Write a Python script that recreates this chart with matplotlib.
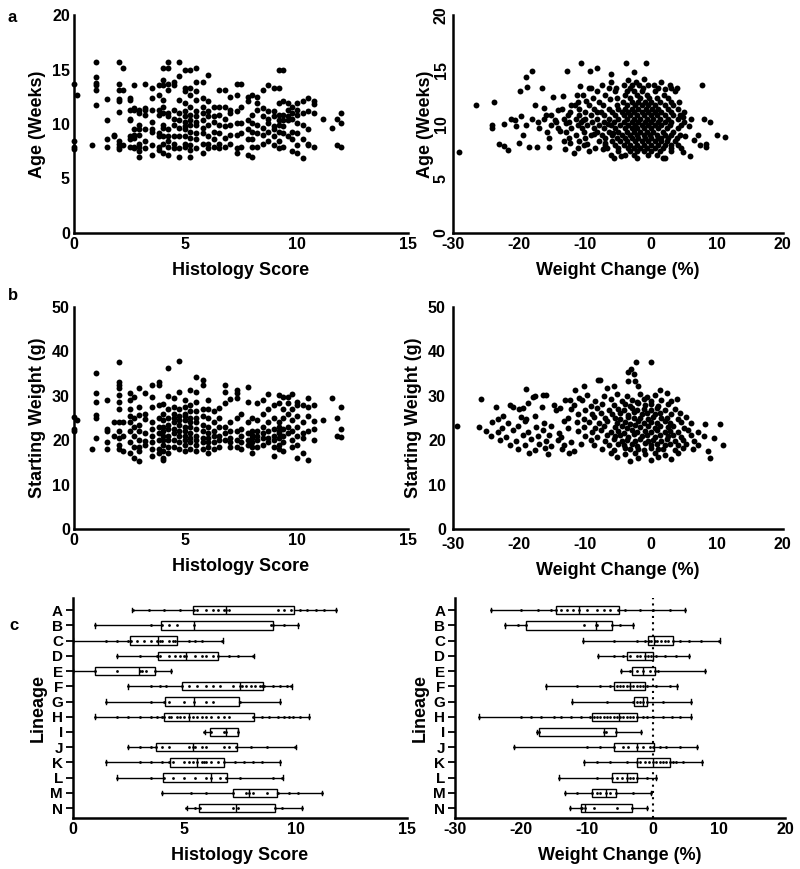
import matplotlib
matplotlib.use('Agg')
import matplotlib.pyplot as plt

plt.rcParams['font.family'] = ['Liberation Sans', 'DejaVu Sans']
plt.rcParams['font.weight'] = 'bold'
plt.rcParams['axes.labelweight'] = 'bold'
plt.rcParams['axes.unicode_minus'] = False

# ---- panel a/b left: histology score columns, with age (weeks) and starting weight (g)
hist_levels = [0.0, 0.15, 0.8, 1.0, 1.5, 1.8, 2.0, 2.2, 2.5, 2.7, 2.9, 3.2, 3.5, 3.8, 4.0, 4.2,
               4.5, 4.7, 5.0, 5.2, 5.5, 5.8, 6.0, 6.3, 6.5, 6.8, 7.0, 7.3, 7.5, 7.8, 8.0, 8.2,
               8.5, 8.7, 9.0, 9.2, 9.4, 9.6, 9.8, 10.0, 10.3, 10.5, 10.8, 11.2, 11.6, 11.8, 12.0]

age_by_hist = [
    [13.7, 8.4, 7.9, 7.7], [12.7], [8.1],
    [15.7, 14.3, 13.8, 13.6, 13.1, 11.7],
    [12.3, 10.4, 8.6, 7.9], [9.0, 8.9],
    [15.7, 13.7, 13.1, 12.3, 12.1, 11.1, 8.4, 8.2, 7.9, 7.7],
    [15.1, 13.1, 8.1],
    [12.4, 12.2, 10.5, 10.4, 8.9, 8.6, 7.9, 11.3],
    [13.6, 11.5, 11.3, 9.0, 8.7, 7.9, 7.8, 9.5],
    [11.3, 11.0, 9.9, 9.0, 8.2, 7.5, 7.0, 7.9, 9.5],
    [13.7, 11.5, 10.8, 9.5, 8.4, 7.8, 11.3],
    [13.3, 12.4, 11.3, 10.2, 9.3, 8.1, 7.2, 9.5],
    [13.6, 12.7, 11.3, 10.8, 9.2, 8.9, 7.9, 7.6],
    [15.1, 14.0, 13.6, 12.2, 11.6, 11.0, 9.9, 9.6, 8.9, 8.2, 7.3],
    [15.7, 15.1, 13.7, 13.1, 11.0, 10.7, 9.5, 8.4, 7.9, 7.2, 8.9],
    [13.9, 13.6, 11.3, 10.5, 9.9, 8.9, 8.2, 7.8],
    [15.7, 14.4, 12.2, 11.0, 10.4, 9.6, 8.9, 7.8, 7.0],
    [15.0, 13.3, 13.0, 11.9, 11.2, 10.7, 10.2, 9.8, 9.5, 8.9, 8.2, 7.9],
    [15.0, 13.3, 12.7, 11.6, 10.8, 10.4, 9.9, 9.3, 8.7, 8.1, 7.6, 7.0],
    [15.1, 13.9, 13.0, 12.2, 11.2, 10.7, 10.2, 9.9, 9.2, 8.6, 7.8],
    [13.9, 12.4, 11.6, 11.0, 10.4, 9.6, 9.2, 8.2, 7.3],
    [14.5, 12.1, 11.2, 10.7, 9.9, 8.9, 8.2, 7.8],
    [11.6, 10.7, 10.2, 9.3, 8.6, 7.9],
    [13.1, 11.6, 10.8, 9.9, 9.2, 8.2, 7.8],
    [13.1, 11.6, 10.5, 9.8, 8.7, 7.9],
    [12.5, 11.3, 11.0, 9.9, 9.0, 8.2],
    [13.7, 12.7, 11.2, 10.1, 9.0, 7.8, 7.3],
    [13.7, 11.6, 10.1, 9.2, 7.9],
    [12.5, 12.1, 10.4, 9.5, 8.6, 7.2],
    [12.7, 10.8, 10.1, 9.3, 8.6, 7.9, 7.0],
    [12.5, 11.9, 11.3, 9.9, 9.2, 7.9],
    [13.1, 11.5, 10.7, 9.6, 9.0, 8.2],
    [13.6, 11.2, 10.5, 10.1, 9.3, 8.4],
    [13.3, 11.2, 10.7, 9.8, 9.5, 8.9, 8.1],
    [15.0, 13.3, 11.9, 10.8, 10.4, 9.9, 9.3, 8.4, 7.8],
    [15.0, 12.1, 10.8, 10.4, 9.8, 9.2, 7.9],
    [11.9, 11.3, 10.7, 10.4, 8.9],
    [11.6, 11.0, 10.5, 9.3, 8.6, 7.5],
    [11.9, 11.3, 10.8, 10.1, 9.2, 8.1, 7.3],
    [12.1, 11.0, 9.9, 8.6, 6.9],
    [12.4, 11.2, 9.5, 8.2, 8.1],
    [12.1, 11.8, 11.0, 7.9],
    [10.5], [9.6], [10.5, 8.1], [11.0, 10.1, 7.9],
]

weight_by_hist = [
    [25.2, 22.4, 22.0], [24.6], [18.0],
    [35.1, 30.6, 28.7, 25.7, 25.0, 20.5],
    [29.1, 22.0, 18.0, 22.5, 19.5], [24.0, 21.0],
    [37.7, 32.4, 31.7, 33.2, 30.2, 28.5, 27.0, 24.0, 22.0, 20.5, 19.0, 18.0],
    [24.0, 21.0, 17.5],
    [30.6, 29.0, 27.0, 25.5, 24.0, 22.0, 19.5, 17.0],
    [29.8, 25.0, 23.0, 21.0, 18.5, 16.0],
    [31.7, 27.5, 25.6, 23.5, 22.0, 20.0, 18.5, 17.5, 15.3],
    [30.6, 26.0, 21.5, 19.0, 24.8, 19.8],
    [32.4, 29.8, 27.5, 24.0, 22.5, 21.0, 19.5, 18.0, 16.5],
    [32.4, 33.2, 28.0, 25.0, 23.0, 21.5, 20.0, 18.0, 17.0],
    [28.2, 26.0, 24.5, 23.0, 22.0, 21.0, 20.0, 19.0, 17.5, 16.0, 15.5],
    [36.2, 30.0, 27.0, 25.0, 23.5, 22.5, 21.0, 20.0, 18.5, 17.0],
    [29.5, 27.5, 26.0, 25.0, 24.0, 22.5, 21.5, 20.0, 18.5],
    [37.8, 30.9, 27.0, 25.5, 24.5, 23.5, 22.0, 21.0, 19.5, 18.0],
    [29.0, 27.5, 26.0, 25.5, 24.5, 23.0, 22.0, 21.0, 20.0, 19.0, 17.5],
    [31.3, 28.0, 26.5, 25.0, 24.0, 23.0, 21.5, 20.5, 19.5, 18.0],
    [34.3, 30.9, 28.5, 26.5, 25.0, 24.0, 22.5, 21.0, 20.0, 19.0, 17.5],
    [33.5, 32.4, 27.0, 25.5, 23.5, 22.0, 20.5, 19.5, 18.0],
    [29.1, 27.0, 25.0, 23.0, 21.5, 20.5, 19.5, 18.5, 17.0],
    [26.5, 24.0, 22.0, 21.0, 19.5, 18.0],
    [27.3, 25.0, 23.0, 21.0, 20.0, 18.5],
    [32.4, 30.9, 28.4, 23.0, 21.5, 20.0],
    [29.3, 24.0, 22.0, 20.5, 19.5, 18.5],
    [31.3, 30.6, 29.5, 25.0, 22.0, 20.0, 18.5],
    [26.0, 22.5, 21.0, 19.5, 18.0],
    [32.0, 28.6, 24.0, 21.5, 20.0, 19.0],
    [25.0, 22.0, 20.5, 19.5, 18.5, 17.0, 21.2],
    [28.3, 24.5, 22.0, 21.0, 20.0, 18.5],
    [29.1, 26.0, 23.0, 21.5, 20.5, 19.0],
    [30.4, 27.0, 24.0, 22.0, 20.5, 19.5],
    [28.0, 25.0, 22.5, 21.0, 20.0, 18.5, 16.5],
    [30.2, 28.4, 24.0, 22.0, 20.5, 19.0, 18.0, 21.5, 23.0],
    [29.8, 27.0, 25.0, 22.5, 21.0, 19.5, 17.5],
    [29.8, 28.4, 26.0, 23.0, 21.5],
    [30.4, 27.0, 24.5, 22.0, 20.0, 18.5],
    [27.9, 25.5, 23.0, 21.0, 19.0, 16.0, 28.6],
    [27.9, 24.0, 21.5, 17.0, 20.5],
    [29.5, 27.5, 25.5, 22.0, 15.6],
    [27.9, 24.4, 20.0, 22.6],
    [24.5], [29.5], [25.0, 21.0], [27.5, 22.5, 20.8],
]

# ---- panel a right: weight change (%) vs age (weeks)
wc_age_pairs = [
    (-29.0, 7.4), (-26.5, 11.7), (-23.8, 12.0), (-24.0, 9.9), (-24.0, 9.6), (-23.0, 8.2),
    (-22.3, 8.0), (-21.7, 7.6), (-22.2, 10.0), (-21.2, 10.5), (-20.6, 10.4), (-20.4, 9.8),
    (-20.0, 8.3), (-19.8, 13.0), (-19.6, 10.7), (-19.4, 9.0), (-18.9, 14.3), (-18.7, 13.4),
    (-18.9, 9.9), (-18.5, 7.9), (-18.0, 14.9), (-18.0, 10.5), (-17.6, 11.7), (-17.1, 10.2),
    (-16.9, 9.6), (-17.2, 7.9), (-16.5, 13.3), (-16.2, 11.5), (-15.9, 10.8), (-15.7, 9.3),
    (-15.5, 8.7), (-15.5, 7.9), (-14.5, 10.4), (-14.8, 12.5), (-14.0, 11.3), (-13.7, 9.4),
    (-13.3, 12.6), (-13.0, 7.7), (-12.8, 10.1), (-12.7, 14.9), (-12.3, 8.3), (-11.6, 7.3),
    (-11.5, 11.7), (-11.2, 12.7), (-10.8, 13.5), (-10.6, 15.6), (-10.2, 10.4), (-9.7, 8.2),
    (-9.8, 12.1), (-8.6, 9.1), (-9.1, 13.3), (-9.2, 14.9), (-7.6, 11.1), (-7.3, 7.7),
    (-8.2, 15.1), (-7.0, 8.3), (-6.5, 10.0), (-6.2, 12.3), (-5.6, 6.9), (-6.0, 14.6),
    (-5.7, 9.2), (-5.2, 13.3), (-4.5, 7.1), (-3.7, 15.6), (-2.5, 14.8), (-0.7, 15.6),
    (0.5, 13.6), (2.1, 13.2), (2.2, 6.9), (3.1, 13.3), (3.9, 13.3), (4.2, 12.0), (4.9, 10.6),
    (4.9, 7.4), (5.2, 8.9), (5.8, 9.8), (6.0, 7.1), (6.6, 8.5), (7.1, 9.0), (7.5, 8.1),
    (7.8, 13.6), (8.1, 10.5), (8.4, 7.9), (8.4, 8.2), (8.9, 10.2), (10.1, 9.0), (11.2, 8.8),
    (-6.1, 13.9), (-3.4, 14.0), (-2.3, 13.9), (-1.1, 14.1), (1.6, 13.9),
    (-7.4, 13.6), (-4.1, 13.6), (-2.9, 13.6), (-1.8, 13.6), (-0.4, 13.6), (2.9, 13.6),
    (-9.4, 13.3), (-6.4, 13.3), (-3.1, 13.3), (-1.2, 13.3), (1.1, 13.3),
    (-8.1, 13.0), (-5.4, 13.0), (-3.6, 13.0), (-2.6, 13.0), (-1.4, 13.0), (0.6, 13.0), (3.6, 13.0),
    (-10.3, 12.7), (-6.9, 12.7), (-3.9, 12.7), (-2.1, 12.7), (-0.6, 12.7), (2.0, 12.7),
    (-8.8, 12.4), (-5.1, 12.4), (-3.2, 12.4), (-1.6, 12.4), (-0.3, 12.4), (0.9, 12.4), (2.6, 12.4),
    (-11.1, 12.0), (-7.9, 12.0), (-4.2, 12.0), (-2.8, 12.0), (-1.9, 12.0), (-0.9, 12.0),
    (0.1, 12.0), (1.4, 12.0), (3.1, 12.0),
    (-12.1, 11.7), (-9.4, 11.7), (-7.3, 11.7), (-5.1, 11.7), (-3.6, 11.7), (-2.4, 11.7),
    (-1.3, 11.7), (-0.4, 11.7), (0.6, 11.7), (2.1, 11.7), (3.4, 11.7),
    (-13.4, 11.4), (-10.9, 11.4), (-8.6, 11.4), (-6.4, 11.4), (-4.9, 11.4), (-3.9, 11.4),
    (-2.9, 11.4), (-1.9, 11.4), (-0.8, 11.4), (0.2, 11.4), (1.1, 11.4), (2.6, 11.4), (4.1, 11.4),
    (-12.2, 11.1), (-9.9, 11.1), (-8.1, 11.1), (-5.9, 11.1), (-4.4, 11.1), (-3.4, 11.1),
    (-2.6, 11.1), (-1.4, 11.1), (-0.4, 11.1), (0.6, 11.1), (1.6, 11.1), (3.1, 11.1), (5.1, 11.1),
    (-15.1, 10.8), (-12.6, 10.8), (-10.9, 10.8), (-9.1, 10.8), (-7.1, 10.8), (-5.4, 10.8),
    (-4.1, 10.8), (-3.1, 10.8), (-2.1, 10.8), (-1.1, 10.8), (0.0, 10.8), (0.9, 10.8),
    (2.1, 10.8), (3.4, 10.8), (4.4, 10.8),
    (-16.2, 10.5), (-13.1, 10.5), (-11.4, 10.5), (-9.9, 10.5), (-8.1, 10.5), (-6.4, 10.5),
    (-4.9, 10.5), (-3.6, 10.5), (-2.6, 10.5), (-1.6, 10.5), (-0.6, 10.5), (0.4, 10.5),
    (1.4, 10.5), (2.6, 10.5), (4.1, 10.5), (6.1, 10.5),
    (-14.4, 10.2), (-12.4, 10.2), (-10.6, 10.2), (-8.9, 10.2), (-7.1, 10.2), (-5.6, 10.2),
    (-4.1, 10.2), (-2.9, 10.2), (-1.9, 10.2), (-0.9, 10.2), (0.1, 10.2), (1.1, 10.2),
    (2.1, 10.2), (3.1, 10.2), (5.1, 10.2),
    (-15.1, 9.9), (-11.1, 9.9), (-9.6, 9.9), (-7.9, 9.9), (-6.1, 9.9), (-4.6, 9.9),
    (-3.4, 9.9), (-2.4, 9.9), (-1.4, 9.9), (-0.4, 9.9), (0.6, 9.9), (1.6, 9.9), (2.9, 9.9), (4.6, 9.9),
    (-14.1, 9.6), (-12.1, 9.6), (-10.4, 9.6), (-8.6, 9.6), (-7.1, 9.6), (-5.4, 9.6),
    (-3.9, 9.6), (-2.9, 9.6), (-2.1, 9.6), (-1.1, 9.6), (0.1, 9.6), (1.1, 9.6), (2.4, 9.6), (4.1, 9.6),
    (-12.9, 9.3), (-10.1, 9.3), (-8.1, 9.3), (-6.4, 9.3), (-4.9, 9.3), (-3.6, 9.3),
    (-2.6, 9.3), (-1.6, 9.3), (-0.6, 9.3), (0.4, 9.3), (1.9, 9.3), (3.4, 9.3),
    (-11.4, 9.0), (-9.1, 9.0), (-7.4, 9.0), (-5.9, 9.0), (-4.4, 9.0), (-3.1, 9.0),
    (-2.1, 9.0), (-1.1, 9.0), (-0.1, 9.0), (0.9, 9.0), (2.1, 9.0), (3.1, 9.0), (4.4, 9.0),
    (-12.4, 8.7), (-9.9, 8.7), (-6.9, 8.7), (-5.1, 8.7), (-3.9, 8.7), (-2.9, 8.7),
    (-1.9, 8.7), (-0.9, 8.7), (0.1, 8.7), (1.1, 8.7), (1.6, 8.7), (2.6, 8.7), (3.9, 8.7),
    (-13.1, 8.4), (-10.9, 8.4), (-7.9, 8.4), (-5.9, 8.4), (-4.6, 8.4), (-3.6, 8.4),
    (-2.4, 8.4), (-1.4, 8.4), (-0.4, 8.4), (0.6, 8.4), (1.6, 8.4), (2.4, 8.4), (3.6, 8.4),
    (-10.1, 8.1), (-6.9, 8.1), (-5.4, 8.1), (-4.1, 8.1), (-3.1, 8.1), (-2.1, 8.1),
    (-1.1, 8.1), (0.1, 8.1), (1.1, 8.1), (2.1, 8.1), (3.1, 8.1), (4.1, 8.1),
    (-11.1, 7.8), (-8.4, 7.8), (-6.6, 7.8), (-4.9, 7.8), (-3.4, 7.8), (-2.6, 7.8),
    (-1.6, 7.8), (-0.6, 7.8), (0.6, 7.8), (1.9, 7.8), (3.1, 7.8), (4.6, 7.8),
    (-9.4, 7.5), (-4.9, 7.5), (-3.1, 7.5), (-2.1, 7.5), (-1.1, 7.5), (0.1, 7.5), (1.4, 7.5), (3.1, 7.5),
    (-6.1, 7.2), (-3.9, 7.2), (-2.6, 7.2), (-0.4, 7.2), (0.9, 7.2),
    (-2.1, 6.9), (1.9, 6.9),
]

# ---- panel b right: weight change (%) vs starting weight (g)
wc_weight_pairs = [
    (-29.3, 23.2), (-25.8, 29.2), (-23.5, 27.5), (-23.2, 24.8), (-22.4, 25.5), (-21.4, 28.0),
    (-20.9, 27.5), (-20.0, 27.0), (-19.4, 27.3), (-18.9, 31.5), (-18.6, 28.4), (-17.9, 29.8),
    (-17.6, 30.0), (-16.4, 30.2), (-15.9, 30.2), (-19.7, 25.2), (-18.9, 24.8), (-17.5, 25.5),
    (-16.5, 27.5), (-14.6, 27.9), (-14.3, 26.8), (-13.8, 27.3), (-13.0, 29.1), (-12.3, 29.1),
    (-11.5, 31.3), (-10.9, 29.5), (-10.1, 32.2), (-8.0, 33.6), (-7.7, 33.6), (-6.6, 31.8),
    (-5.6, 32.2), (-3.0, 36.0), (-2.3, 37.7), (0.0, 37.5), (-3.5, 35.4), (-2.6, 34.9),
    (-3.4, 33.4), (-2.4, 33.4), (-1.9, 32.2), (1.4, 31.2), (2.4, 30.7), (3.9, 29.3),
    (8.2, 23.7), (10.5, 23.7), (11.0, 19.0), (9.0, 16.0), (8.6, 17.5), (9.5, 20.5),
    (-24.1, 24.1), (-21.6, 23.8), (-19.1, 24.2), (-16.2, 23.9), (-13.1, 24.3), (-11.2, 24.0),
    (-26.0, 23.0), (-22.6, 22.8), (-20.1, 23.2), (-17.4, 22.9), (-15.1, 23.1), (-12.6, 22.7),
    (-25.0, 22.1), (-23.1, 21.8), (-20.9, 22.3), (-18.6, 21.9), (-16.4, 22.2), (-13.9, 21.7),
    (-24.2, 21.0), (-21.9, 20.7), (-19.4, 21.2), (-17.1, 20.9), (-15.4, 21.1), (-13.6, 20.6),
    (-22.9, 20.0), (-20.4, 19.7), (-18.1, 20.2), (-15.9, 19.8), (-14.1, 20.1), (-12.1, 19.6),
    (-21.4, 19.0), (-19.1, 18.8), (-16.9, 19.2), (-15.1, 18.6), (-13.1, 18.9), (-10.6, 19.1),
    (-20.1, 18.0), (-17.6, 17.7), (-16.1, 18.2), (-13.4, 17.9), (-11.6, 17.6),
    (-18.4, 17.0), (-15.6, 16.8), (-12.4, 17.1),
    (-9.6, 30.1), (-7.1, 29.9), (-5.1, 30.3), (-3.6, 30.0), (-1.6, 30.4), (-0.6, 29.8), (0.6, 30.2),
    (-10.4, 29.0), (-8.4, 28.9), (-6.1, 29.2), (-4.4, 28.8), (-2.9, 29.1), (-2.1, 28.7),
    (-1.1, 29.3), (0.1, 28.9), (1.6, 29.1), (3.1, 28.8),
    (-11.6, 28.0), (-9.1, 27.8), (-7.4, 28.2), (-5.6, 27.9), (-3.9, 28.1), (-3.1, 27.7),
    (-1.9, 28.3), (-0.9, 27.9), (0.1, 28.1), (1.1, 27.8), (2.6, 28.2),
    (-12.1, 27.0), (-9.9, 26.8), (-8.1, 27.2), (-6.4, 26.9), (-4.9, 27.1), (-4.1, 26.7),
    (-2.9, 27.3), (-2.1, 26.9), (-1.1, 27.1), (0.1, 26.8), (0.9, 27.2), (2.1, 26.9), (3.6, 27.1),
    (-11.1, 26.0), (-8.9, 25.8), (-7.6, 26.2), (-5.9, 25.9), (-4.6, 26.1), (-3.4, 25.7),
    (-2.6, 26.3), (-1.4, 25.9), (-0.6, 26.1), (0.6, 25.8), (1.4, 26.2), (3.1, 25.9), (4.4, 26.1),
    (-12.6, 25.0), (-10.1, 24.8), (-8.6, 25.2), (-6.9, 24.9), (-5.4, 25.1), (-4.6, 24.7),
    (-3.4, 25.3), (-2.6, 24.9), (-1.6, 25.1), (-0.4, 24.8), (0.4, 25.2), (1.6, 24.9),
    (2.4, 25.1), (4.1, 24.8), (5.4, 25.2),
    (-9.4, 24.0), (-7.9, 23.8), (-6.6, 24.2), (-5.1, 23.9), (-3.9, 24.1), (-3.1, 23.7),
    (-1.9, 24.3), (-1.1, 23.9), (0.1, 24.1), (0.9, 23.8), (2.1, 24.2), (2.9, 23.9), (4.6, 24.1), (6.1, 23.8),
    (-10.1, 23.0), (-8.4, 22.8), (-7.1, 23.2), (-5.4, 22.9), (-4.4, 23.1), (-3.6, 22.7),
    (-2.4, 23.3), (-1.6, 22.9), (-0.4, 23.1), (0.6, 22.8), (1.4, 23.2), (2.6, 22.9), (3.4, 23.1), (5.1, 22.8),
    (-11.1, 22.0), (-8.9, 21.8), (-7.6, 22.2), (-6.1, 21.9), (-4.9, 22.1), (-4.1, 21.7),
    (-2.9, 22.3), (-2.1, 21.9), (-0.9, 22.1), (0.1, 21.8), (0.9, 22.2), (2.1, 21.9),
    (2.9, 22.1), (4.1, 21.8), (5.6, 22.2), (7.1, 21.9),
    (-9.9, 21.0), (-8.1, 20.8), (-6.6, 21.2), (-5.4, 20.9), (-4.6, 21.1), (-3.4, 20.7),
    (-2.6, 21.3), (-1.4, 20.9), (-0.6, 21.1), (0.6, 20.8), (1.4, 21.2), (2.6, 20.9),
    (3.4, 21.1), (4.6, 20.8), (6.1, 21.2), (8.1, 20.9),
    (-9.1, 20.0), (-6.9, 19.8), (-5.6, 20.2), (-4.4, 19.9), (-3.6, 20.1), (-2.4, 19.7),
    (-1.6, 20.3), (-0.4, 19.9), (0.4, 20.1), (1.6, 19.8), (2.4, 20.2), (3.6, 19.9), (4.9, 20.1), (6.6, 19.8),
    (-8.6, 19.0), (-6.4, 18.8), (-4.9, 19.2), (-4.1, 18.9), (-2.9, 19.1), (-2.1, 18.7),
    (-0.9, 19.3), (0.1, 18.9), (0.9, 19.1), (2.1, 18.8), (2.9, 19.2), (4.1, 18.9), (5.4, 19.1), (7.1, 18.8),
    (-7.4, 18.0), (-5.6, 17.8), (-3.9, 18.2), (-3.1, 17.9), (-1.9, 18.1), (-1.1, 17.7),
    (0.1, 18.3), (1.1, 17.9), (1.9, 18.1), (3.6, 17.8), (4.9, 18.2), (6.4, 17.9),
    (-6.1, 17.0), (-3.9, 16.8), (-2.4, 17.2), (-0.9, 16.9), (0.6, 17.1), (2.1, 16.7), (4.1, 17.0),
    (-5.1, 16.1), (-1.9, 15.9), (1.1, 16.2), (3.1, 15.8), (-3.1, 15.4), (0.1, 15.6),
]

# ---- panel c: lineage box stats (min, q1, median, q3, max) and individual mice
lineages = ['A', 'B', 'C', 'D', 'E', 'F', 'G', 'H', 'I', 'J', 'K', 'L', 'M', 'N']

hist_box = [
    (2.67, 5.42, 6.88, 9.92, 11.8), (0.98, 3.98, 5.45, 9.0, 10.13), (0.0, 2.55, 3.84, 4.67, 6.73),
    (1.97, 3.84, 5.1, 6.5, 8.12), (0.0, 0.99, 2.97, 3.68, 4.43), (2.48, 4.92, 7.52, 8.53, 9.83),
    (1.47, 4.13, 5.45, 7.48, 9.32), (0.98, 4.1, 5.23, 8.12, 10.63), (5.93, 6.17, 6.88, 7.43, 7.43),
    (2.48, 3.75, 5.42, 7.36, 10.03), (1.47, 4.35, 5.6, 6.8, 9.32), (1.97, 4.07, 6.2, 6.92, 9.43),
    (4.02, 7.18, 7.93, 9.17, 11.2), (5.12, 5.65, 7.33, 9.1, 10.3),
]
hist_pts = [
    [2.7, 3.4, 4.1, 4.8, 5.45, 5.6, 6.0, 6.3, 6.5, 6.8, 6.9, 7.0, 9.2, 9.5, 9.8, 10.2, 10.5, 10.9, 11.3, 11.8],
    [1.0, 3.5, 4.0, 4.3, 4.7, 5.45, 8.9, 9.0, 9.5, 10.1],
    [0.0, 1.5, 2.0, 2.5, 2.6, 2.9, 3.2, 3.5, 3.8, 3.9, 4.0, 4.3, 4.5, 4.6, 5.2, 5.5, 5.8, 6.7],
    [2.0, 3.0, 3.8, 3.9, 4.3, 4.6, 4.8, 5.0, 5.1, 5.5, 5.8, 6.0, 6.3, 6.5, 7.0, 7.4, 8.1],
    [0.0, 1.0, 2.0, 3.0, 3.1, 3.3, 3.7, 4.4],
    [2.5, 3.5, 3.9, 4.2, 4.9, 5.2, 5.6, 6.0, 6.3, 6.6, 7.2, 7.5, 7.6, 7.8, 8.0, 8.2, 8.4, 8.5, 8.6, 9.0, 9.3, 9.6, 9.8],
    [1.5, 3.5, 4.1, 4.3, 5.0, 5.45, 6.0, 6.3, 7.5, 9.3],
    [1.0, 2.0, 2.5, 3.0, 3.5, 3.8, 4.0, 4.1, 4.3, 4.4, 4.7, 4.8, 5.0, 5.2, 5.4, 5.6, 5.8, 6.0,
     6.2, 6.5, 6.8, 7.0, 8.1, 8.5, 8.8, 9.2, 9.5, 9.7, 9.9, 10.2, 10.6],
    [5.9, 6.2, 6.8, 6.9, 7.4],
    [2.5, 3.0, 3.5, 3.75, 4.0, 4.3, 5.2, 5.4, 5.5, 5.8, 6.0, 6.8, 7.0, 7.35, 8.0, 8.7, 10.0],
    [1.5, 3.0, 3.5, 4.0, 4.3, 4.5, 5.0, 5.2, 5.4, 5.6, 5.8, 5.9, 6.0, 6.2, 6.5, 6.8, 7.3, 7.7, 8.1, 8.5, 9.3],
    [2.0, 3.5, 4.1, 4.5, 5.0, 5.5, 6.0, 6.2, 6.6, 6.9, 7.5, 9.0, 9.4],
    [4.0, 5.3, 6.0, 7.2, 7.8, 7.9, 8.1, 8.7, 9.2, 9.7, 10.1, 11.2],
    [5.1, 5.5, 5.7, 7.2, 7.4, 9.1, 9.4, 10.3],
]

wc_box = [
    (-24.5, -14.8, -11.3, -5.2, 4.75), (-22.5, -19.2, -8.6, -6.2, -3.0), (-10.6, -0.8, 0.1, 3.0, 10.05),
    (-8.4, -3.9, -1.2, 0.0, 5.5), (-4.85, -3.2, -1.5, 0.2, 7.8), (-16.2, -6.0, -3.5, -1.2, 3.6),
    (-12.3, -2.9, -1.5, -0.9, 5.8), (-26.4, -9.2, -5.2, -2.5, 5.7), (-17.6, -17.3, -7.4, -5.6, -1.8),
    (-21.1, -6.0, -2.5, 0.1, 6.6), (-10.5, -2.5, 0.0, 2.5, 7.4), (-14.3, -6.2, -3.9, -2.5, 0.5),
    (-13.3, -9.3, -7.2, -5.6, -0.4), (-12.6, -11.0, -10.4, -3.2, -0.9),
]
wc_pts = [
    [-24.5, -20, -17.5, -15.5, -14.7, -14, -13, -12.2, -11.3, -10, -8.5, -7.5, -6.5, -5.3, -4.3, -2, 0, 2.5, 4.75],
    [-22.5, -20.5, -19.2, -10.5, -8.7, -8.5, -6.2, -5, -3],
    [-10.6, -6, -2.5, -1.3, -0.7, -0.3, 0.2, 0.6, 1.2, 1.8, 2.3, 3, 4, 5.5, 7.2, 10],
    [-8.4, -6, -4.5, -3.5, -2.5, -2, -1.3, -0.8, -0.3, 0.5, 1.8, 3.5, 5.5],
    [-4.9, -3.5, -2.5, -1.5, -0.5, 0.2, 0.8, 7.8],
    [-16.2, -11.5, -8, -6.5, -5.5, -5, -4.5, -4, -3.5, -3, -2.5, -2, -1.5, -1, 0.5, 2.5, 3.6],
    [-12.3, -7, -3, -2.5, -2, -1.5, -1, 1.5, 5.8],
    [-26.4, -20, -18.5, -17, -15, -14, -12.5, -11, -9.5, -9, -8.5, -8, -7.5, -7, -6.5, -6, -5.5,
     -5, -4.5, -4, -3.5, -3, -2.5, -1.5, -1, 0, 1.5, 2.8, 4, 5.7],
    [-17.6, -17.3, -7.5, -7.2, -5.6, -1.8],
    [-21.1, -10, -8, -6, -4.5, -3.8, -2.5, -1.5, -0.5, 0, 1, 2, 4, 6.6],
    [-10.5, -8.5, -6.5, -4, -2.5, -2, -1.2, -0.6, 0, 0.5, 1, 1.5, 2, 2.5, 3, 3.5, 4.5, 7.4],
    [-14.3, -8.5, -6.2, -5.5, -4.8, -3.9, -3.5, -3, -2.5, -1, 0.5],
    [-13.3, -11.5, -9.3, -8.5, -8, -7.2, -6.5, -5.6, -3, -0.4],
    [-12.6, -11, -10.8, -10.4, -9, -5.5, -3.2, -0.9],
]

TICK = 11.5
LAB = 13

fig = plt.figure(figsize=(8.0, 8.69), dpi=100)


def style(ax):
    for s in ['top', 'right']:
        ax.spines[s].set_visible(False)
    for s in ['left', 'bottom']:
        ax.spines[s].set_linewidth(1.8)
    ax.tick_params(length=0, labelsize=TICK, pad=3)


def scatter_panel(ax, x, y, xlim, xticks, ylim, yticks, xlabel, ylabel):
    ax.scatter(x, y, s=18, c='black', linewidths=0, clip_on=False, zorder=3)
    ax.set_xlim(*xlim)
    ax.set_ylim(*ylim)
    ax.set_xticks(xticks)
    ax.set_yticks(yticks)
    ax.set_xlabel(xlabel, fontsize=LAB, labelpad=7)
    ax.set_ylabel(ylabel, fontsize=LAB, labelpad=4)
    style(ax)


def flatten(levels, groups):
    xs, ys = [], []
    for lv, g in zip(levels, groups):
        for v in g:
            xs.append(lv)
            ys.append(v)
    return xs, ys


hist_x, age_y = flatten(hist_levels, age_by_hist)
hist_xb, weight_y = flatten(hist_levels, weight_by_hist)
wc_x = [p[0] for p in wc_age_pairs]
wc_age_y = [p[1] for p in wc_age_pairs]
wc_xb = [p[0] for p in wc_weight_pairs]
wc_weight_y = [p[1] for p in wc_weight_pairs]

# panel a
ax1 = fig.add_axes([0.0925, 0.7319, 0.4175, 0.2508])
scatter_panel(ax1, hist_x, age_y, (0, 15), [0, 5, 10, 15], (0, 20), [0, 5, 10, 15, 20],
              'Histology Score', 'Age (Weeks)')
ax2 = fig.add_axes([0.566, 0.7319, 0.4125, 0.2508])
scatter_panel(ax2, wc_x, wc_age_y, (-30, 20), [-30, -20, -10, 0, 10, 20], (0, 20), [0, 5, 10, 15, 20],
              'Weight Change (%)', 'Age (Weeks)')
for t in ax2.get_yticklabels():
    t.set_rotation(90)
    t.set_va('center')
ax2.yaxis.labelpad = 0

# panel b
ax3 = fig.add_axes([0.0925, 0.3913, 0.4175, 0.2555])
scatter_panel(ax3, hist_xb, weight_y, (0, 15), [0, 5, 10, 15], (0, 50), [0, 10, 20, 30, 40, 50],
              'Histology Score', 'Starting Weight (g)')
ax4 = fig.add_axes([0.566, 0.3913, 0.4125, 0.2555])
scatter_panel(ax4, wc_xb, wc_weight_y, (-30, 20), [-30, -20, -10, 0, 10, 20], (0, 50),
              [0, 10, 20, 30, 40, 50], 'Weight Change (%)', 'Starting Weight (g)')
ax4.tick_params(axis='y', pad=5)
ax4.tick_params(axis='x', pad=6)


def box_panel(ax, box, pts, xlim, xticks, xlabel):
    stats = [dict(whislo=b[0], q1=b[1], med=b[2], q3=b[3], whishi=b[4], label=lab)
             for b, lab in zip(box, lineages)]
    pos = list(range(len(lineages)))
    ax.bxp(stats, positions=pos, orientation='horizontal', widths=0.55, showfliers=False,
           patch_artist=True, capwidths=0.3,
           boxprops=dict(facecolor='white', edgecolor='black', linewidth=1.0),
           whiskerprops=dict(color='black', linewidth=1.0),
           capprops=dict(color='black', linewidth=1.0),
           medianprops=dict(color='black', linewidth=1.0))
    for i, p in enumerate(pts):
        ax.scatter(p, [i] * len(p), s=4, c='black', linewidths=0, zorder=4)
    ax.set_ylim(13.65, -0.8)
    ax.set_xlim(*xlim)
    ax.set_xticks(xticks)
    ax.set_yticks(pos)
    ax.set_yticklabels(lineages)
    ax.set_xlabel(xlabel, fontsize=LAB, labelpad=7)
    ax.set_ylabel('Lineage', fontsize=LAB, labelpad=3)
    style(ax)
    ax.tick_params(axis='y', length=5, width=1.3, pad=2, labelsize=11)


ax5 = fig.add_axes([0.091, 0.0587, 0.4175, 0.2532])
box_panel(ax5, hist_box, hist_pts, (0, 15), [0, 5, 10, 15], 'Histology Score')
ax6 = fig.add_axes([0.569, 0.0587, 0.4125, 0.2532])
box_panel(ax6, wc_box, wc_pts, (-30, 20), [-30, -20, -10, 0, 10, 20], 'Weight Change (%)')
ax6.axvline(0, color='black', linestyle=(0, (1, 2)), linewidth=1.5, zorder=1)

# panel letters
fig.text(0.010, 0.975, 'a', fontsize=12, fontweight='bold')
fig.text(0.010, 0.655, 'b', fontsize=12, fontweight='bold')
fig.text(0.012, 0.275, 'c', fontsize=12, fontweight='bold')

fig.savefig('out.png', dpi=100)
